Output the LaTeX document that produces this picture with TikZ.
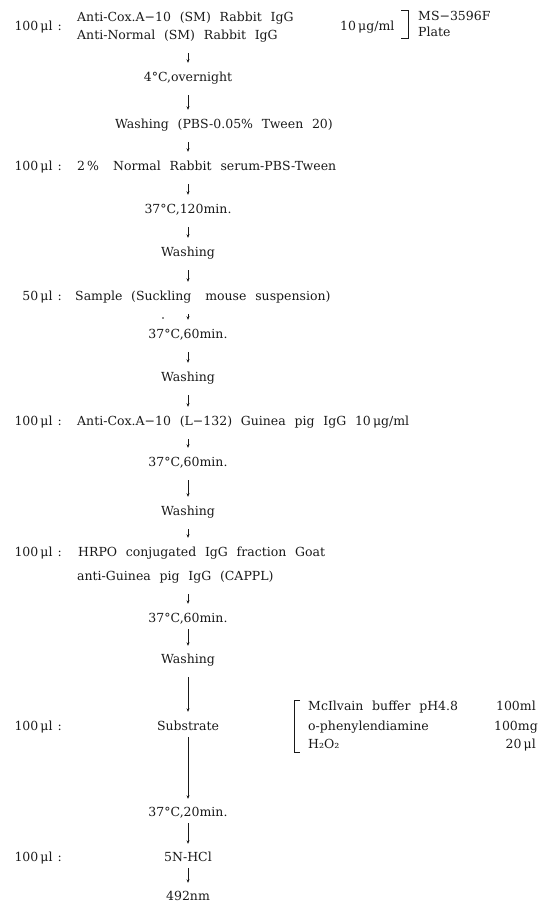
\documentclass[tikz,border=0pt]{standalone}
\usepackage{fontspec}
\setmainfont{DejaVu Serif}
\usetikzlibrary{arrows.meta}
\def\colx{188}
\def\widesp{\spaceskip=0.7em\relax}
\def\vol#1{#1\,μl\hspace{5pt}:}
\colorlet{ink}{black!90}
\tikzset{txt/.style={inner sep=0pt, text height=9pt, text depth=3pt,
      font=\fontsize{12.5}{14}\selectfont\widesp, text=ink},
    amount/.style={txt, anchor=east},
    lft/.style={txt, anchor=west},
    flow/.style={draw=ink, line width=0.6pt, -{Stealth[length=3.5pt,width=3pt]},
      shorten <=11pt, shorten >=9pt},
    longflow/.style={flow, shorten <=4pt, shorten >=8pt}}

\begin{document}
\begin{tikzpicture}[x=1pt, y=-1pt]
     \useasboundingbox (0,0) rectangle (541,905);
     % coating
     \node[amount] (v1) at (62,27) {\vol{100}};
     \node[lft] (a1) at (77,18) {Anti-Cox.A−10 (SM) Rabbit IgG};
     \node[lft] (a2) at (77,36) {Anti-Normal (SM) Rabbit IgG};
     \node[lft] (conc) at (340,27) {10\,μg/ml};
     \node[lft] (ms1) at (418,17) {MS−3596F};
     \node[lft] (ms2) at (418,33) {Plate};
     \draw[ink, line width=0.6pt] (401,10) -- (408,10) -- (408,38) -- (401,38);
     \node[txt] (t1) at (\colx,78) {4°C,overnight};
     \node[lft] (w1) at (115,125) {Washing (PBS-0.05\% Tween 20)};
     % blocking
     \node[amount] (v2) at (62,167) {\vol{100}};
     \node[lft] (nrs) at (77,167) {2\,\%\hspace{14pt}Normal Rabbit serum-PBS-Tween};
     \node[txt] (t2) at (\colx,210) {37°C,120min.};
     \node[txt] (w2) at (\colx,253) {Washing};
     % sample
     \node[amount] (v3) at (62,297) {\vol{50}};
     \node[lft] (smp) at (75,297) {Sample (Suckling\hspace{14pt}mouse suspension)};
     \fill[ink] (163,318) circle (0.9);
     \node[txt] (t3) at (\colx,335) {37°C,60min.};
     \node[txt] (w3) at (\colx,378) {Washing};
     % second antibody
     \node[amount] (v4) at (62,422) {\vol{100}};
     \node[lft] (gp) at (77,422) {Anti-Cox.A−10 (L−132) Guinea pig IgG 10\,μg/ml};
     \node[txt] (t4) at (\colx,463) {37°C,60min.};
     \node[txt] (w4) at (\colx,512) {Washing};
     % conjugate
     \node[amount] (v5) at (62,553) {\vol{100}};
     \node[lft] (hr1) at (78,553) {HRPO conjugated IgG fraction Goat};
     \node[lft] (hr2) at (77,577) {anti-Guinea pig IgG (CAPPL)};
     \node[txt] (t5) at (\colx,619) {37°C,60min.};
     \node[txt] (w5) at (\colx,660) {Washing};
     % substrate
     \node[amount] (v6) at (62,727) {\vol{100}};
     \node[txt] (sub) at (\colx,727) {Substrate};
     \node[lft] (r1) at (308,707) {McIlvain buffer pH4.8};
     \node[lft] (r2) at (308,727) {o-phenylendiamine};
     \node[lft] (r3) at (308,745) {H₂O₂};
     \node[amount] (q1) at (536,707) {100ml};
     \node[amount] (q2) at (538,727) {100mg};
     \node[amount] (q3) at (536,745) {20\,μl};
     \draw[ink, line width=0.6pt] (300,700) -- (294,700) -- (294,752) -- (300,752);
     \node[txt] (t6) at (\colx,813) {37°C,20min.};
     \node[amount] (v7) at (62,858) {\vol{100}};
     \node[txt] (hcl) at (\colx,858) {5N-HCl};
     \node[txt] (nm) at (\colx,897) {492nm};

     \draw[flow] (a2.south -| t1) -- (t1);
     \draw[flow] (t1) -- (w1.north -| t1);
     \draw[flow] (w1.south -| t1) -- (nrs.north -| t1);
     \draw[flow] (nrs.south -| t2) -- (t2);
     \draw[flow] (t2) -- (w2);
     \draw[flow] (w2) -- (smp.north -| w2);
     \draw[flow] (smp.south -| t3) -- (t3);
     \draw[flow] (t3) -- (w3);
     \draw[flow] (w3) -- (gp.north -| w3);
     \draw[flow] (gp.south -| t4) -- (t4);
     \draw[flow] (t4) -- (w4);
     \draw[flow] (w4) -- (hr1.north -| w4);
     \draw[flow] (hr2.south -| t5) -- (t5);
     \draw[longflow] (t5) -- (w5);
     \draw[flow] (w5) -- (sub);
     \draw[longflow] (sub) -- (t6);
     \draw[longflow] (t6) -- (hcl);
     \draw[longflow] (hcl) -- (nm);
\end{tikzpicture}
\end{document}
